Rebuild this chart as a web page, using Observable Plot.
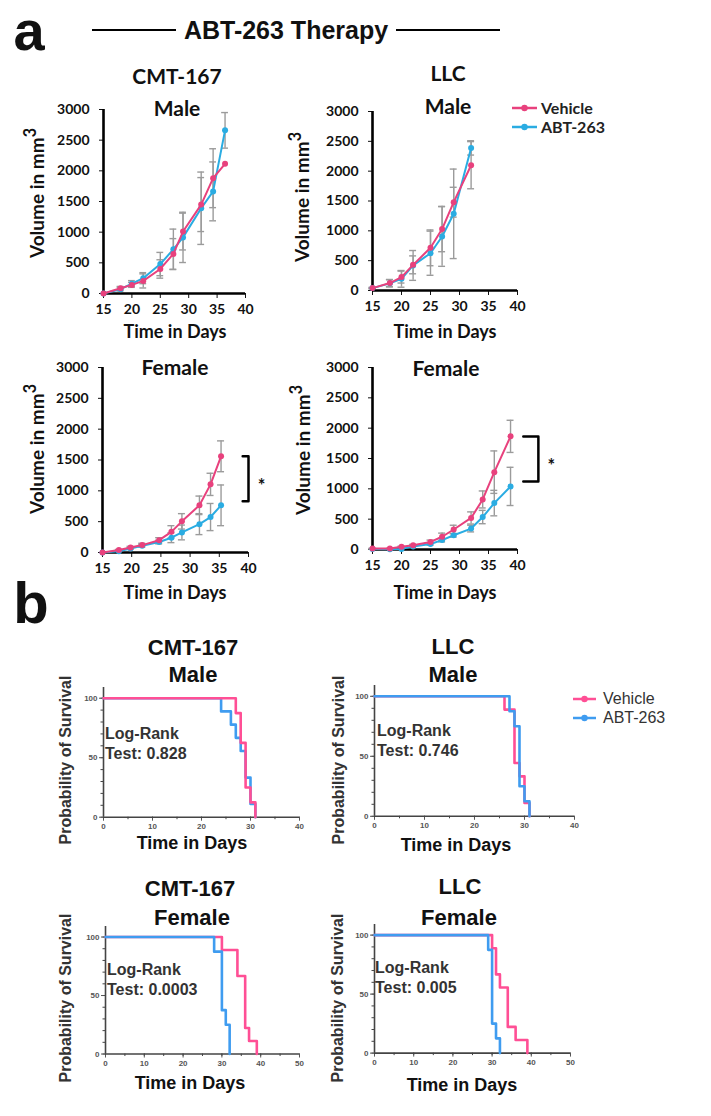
<!DOCTYPE html>
<html><head><meta charset="utf-8">
<script src="https://cdn.jsdelivr.net/npm/d3@7"></script>
<script src="https://cdn.jsdelivr.net/npm/@observablehq/plot@0.6"></script>
<style>
body{margin:0;background:#fff;}
#fig{position:relative;width:711px;height:1116px;overflow:hidden;background:#fff;}
.t{position:absolute;white-space:nowrap;color:#111;line-height:1;}
</style></head><body><div id="fig"></div>
<script>
// ---------------- DATA ----------------
const seriesNames = ["Vehicle", "ABT-263"];
const growthColors = ["#e8417d", "#2aace2"];
const survivalColors = ["#ff4f95", "#3f9cf0"];

const growthDayTicks = [15, 20, 25, 30, 35, 40];
const growthVolumeTicks = [0, 500, 1000, 1500, 2000, 2500, 3000];

// a: CMT-167 Male
const cmtMaleDays = [15, 18, 20, 22, 25, 27.3, 29, 32.2, 34.3, 36.4];
const cmtMaleVehicle = [0, 85, 140, 205, 400, 645, 1010, 1450, 1880, 2115];
const cmtMaleVehicleErr = [0, 30, 40, 115, 150, 250, 300, 440, 480, 0];
const cmtMaleAbt = [0, 70, 160, 250, 480, 720, 915, 1390, 1665, 2660];
const cmtMaleAbtErr = [0, 30, 50, 90, 190, 330, 410, 590, 480, 290];

// a: LLC Male
const llcMaleDays = [15, 18, 20, 22, 25, 27, 29, 32];
const llcMaleVehicle = [40, 125, 225, 430, 715, 1030, 1480, 2100];
const llcMaleVehicleErr = [10, 60, 100, 150, 300, 380, 250, 395];
const llcMaleAbt = [40, 120, 195, 420, 625, 905, 1285, 2390];
const llcMaleAbtErr = [10, 60, 140, 250, 370, 500, 750, 120];

// a: CMT-167 Female
const cmtFemaleDays = [15, 17.8, 19.8, 21.8, 24.7, 26.8, 28.6, 31.6, 33.5, 35.3];
const cmtFemaleVehicle = [0, 40, 80, 120, 200, 335, 505, 765, 1105, 1560];
const cmtFemaleVehicleErr = [0, 10, 20, 30, 40, 100, 125, 150, 180, 250];
const cmtFemaleAbt = [0, 20, 65, 110, 170, 240, 325, 460, 575, 765];
const cmtFemaleAbtErr = [0, 10, 15, 20, 30, 80, 120, 170, 220, 330];
const cmtFemaleBracket = [{arm: 39, bar: 40, top: 1560, bottom: 830}];

// a: LLC Female
const llcFemaleDays = [15, 18, 20, 22, 25, 27, 29, 32, 34, 36, 38.8];
const llcFemaleVehicle = [15, 15, 45, 70, 125, 210, 330, 520, 825, 1275, 1865];
const llcFemaleVehicleErr = [5, 5, 10, 15, 30, 60, 70, 100, 140, 350, 265];
const llcFemaleAbt = [10, 5, 10, 50, 90, 155, 235, 345, 535, 765, 1040];
const llcFemaleAbtErr = [5, 5, 5, 10, 20, 30, 30, 55, 110, 210, 315];
const llcFemaleBracket = [{arm: 41, bar: 43.6, top: 1862, bottom: 1120}];

// b: survival (time in days, probability of survival %)
const survTop = 109;
const cmtMaleSurvVehicleT = [0, 27, 28, 29, 30, 31];
const cmtMaleSurvVehicleS = [100, 87.5, 62.5, 25, 12.5, 0];
const cmtMaleSurvAbtT = [0, 24, 26, 27, 28, 29, 30, 31];
const cmtMaleSurvAbtS = [100, 88.9, 77.8, 66.7, 55.6, 33.3, 11.1, 0];

const llcMaleSurvVehicleT = [0, 26, 28, 29, 30, 31];
const llcMaleSurvVehicleS = [100, 88.9, 44.4, 33.3, 11.1, 0];
const llcMaleSurvAbtT = [0, 27, 28, 29, 30, 31];
const llcMaleSurvAbtS = [100, 87.5, 75, 25, 12.5, 0];

const cmtFemaleSurvVehicleT = [0, 30, 34, 36, 37, 39];
const cmtFemaleSurvVehicleS = [100, 88.9, 66.7, 22.2, 11.1, 0];
const cmtFemaleSurvAbtT = [0, 28, 30, 31, 32];
const cmtFemaleSurvAbtS = [100, 87.5, 37.5, 25, 0];

const llcFemaleSurvVehicleT = [0, 30, 31, 32, 34, 36, 39];
const llcFemaleSurvVehicleS = [100, 88.9, 66.7, 55.6, 22.2, 11.1, 0];
const llcFemaleSurvAbtT = [0, 29, 30, 31, 32];
const llcFemaleSurvAbtS = [100, 87.5, 25, 12.5, 0];

// ---------------- HELPERS ----------------
const FA = "Lato, 'Liberation Sans', sans-serif";
const FB = "'Liberation Sans', Arial, sans-serif";
const fig = document.getElementById("fig");

function growthRows(days, veh, vehErr, abt, abtErr) {
  const rows = [];
  days.forEach((d, i) => rows.push({day: d, value: veh[i], err: vehErr[i], series: "Vehicle"}));
  days.forEach((d, i) => rows.push({day: d, value: abt[i], err: abtErr[i], series: "ABT-263"}));
  return rows;
}
function survRows(t, s, series) {
  return t.map((d, i) => ({t: d, s: s[i], series}));
}

function growthPlot(box, rows, bracket) {
  const {x15, x40, y3000, y0} = box;
  const ml = 64, mt = 12, mr = 60, mb = 34;
  const capHalf = 0.6;
  const errRows = rows.filter(d => d.err > 0);
  const veh = rows.filter(d => d.series === "Vehicle");
  const abt = rows.filter(d => d.series === "ABT-263");
  const marks = [
    Plot.axisY({ticks: growthVolumeTicks, tickSize: 4, tickPadding: 10, fontSize: 14, fontWeight: "bold", tickFormat: d => String(d), label: null, color: "#111"}),
    Plot.axisX({ticks: growthDayTicks, tickSize: 5, tickPadding: 6, fontSize: 14, fontWeight: "bold", label: null, color: "#111"}),
    Plot.ruleX(errRows, {x: "day", y1: d => d.value - d.err, y2: d => d.value + d.err, stroke: "#9b9b9b", strokeWidth: 1.4}),
    Plot.ruleY(errRows, {y: d => d.value + d.err, x1: d => d.day - capHalf, x2: d => d.day + capHalf, stroke: "#9b9b9b", strokeWidth: 1.4}),
    Plot.ruleY(errRows, {y: d => d.value - d.err, x1: d => d.day - capHalf, x2: d => d.day + capHalf, stroke: "#9b9b9b", strokeWidth: 1.4}),
    Plot.ruleX([15], {y1: 0, y2: 3000, stroke: "#000", strokeWidth: 2.6}),
    Plot.ruleY([0], {x1: 15, x2: 40, stroke: "#000", strokeWidth: 2.6}),
    Plot.line(abt, {x: "day", y: "value", stroke: "series", strokeWidth: 2}),
    Plot.dot(abt, {x: "day", y: "value", fill: "series", r: 3}),
    Plot.line(veh, {x: "day", y: "value", stroke: "series", strokeWidth: 2}),
    Plot.dot(veh, {x: "day", y: "value", fill: "series", r: 3})
  ];
  if (bracket) {
    const pts = bracket.flatMap(b => [{x: b.arm, y: b.top}, {x: b.bar, y: b.top}, {x: b.bar, y: b.bottom}, {x: b.arm, y: b.bottom}]);
    marks.push(Plot.line(pts, {x: "x", y: "y", stroke: "#000", strokeWidth: 2.5}));
    marks.push(Plot.text(bracket, {x: "bar", y: d => (d.top + d.bottom) / 2, text: () => "*", dx: 13, dy: 7, fontSize: 18, fontWeight: "bold", fill: "#111"}));
  }
  const svg = Plot.plot({
    width: x40 - x15 + ml + mr, height: y0 - y3000 + mt + mb,
    marginLeft: ml, marginTop: mt, marginRight: mr, marginBottom: mb,
    x: {domain: [15, 40]}, y: {domain: [0, 3000]},
    color: {domain: seriesNames, range: growthColors},
    style: {position: "absolute", left: (x15 - ml) + "px", top: (y3000 - mt) + "px", background: "transparent", overflow: "visible", fontFamily: FA, fontWeight: "bold", maxWidth: "none"},
    marks
  });
  fig.appendChild(svg);
}

function survivalPlot(box, xmax, layers) {
  const {x0, x1, y0, y100} = box;
  const k = (y0 - y100) / 100;
  const yTop = y0 - survTop * k;
  const ml = 32, mt = 6, mr = 14, mb = 24;
  const marks = [
    Plot.axisY({ticks: d3.range(0, 101, 10), tickSize: 2.5, tickFormat: () => "", label: null, color: "#444"}),
    Plot.axisY({ticks: [0, 50, 100], tickSize: 4, tickPadding: 2, fontSize: 8, fontWeight: "bold", label: null, color: "#555"}),
    Plot.axisX({ticks: d3.range(0, xmax + 1, 5), tickSize: 2.5, tickFormat: () => "", label: null, color: "#444"}),
    Plot.axisX({ticks: d3.range(0, xmax + 1, 10), tickSize: 4, tickPadding: 2, fontSize: 8, fontWeight: "bold", label: null, color: "#555"}),
    Plot.ruleX([0], {y1: 0, y2: survTop, stroke: "#444", strokeWidth: 1.6}),
    Plot.ruleY([0], {x1: 0, x2: xmax, stroke: "#444", strokeWidth: 1.6})
  ];
  layers.forEach(rows => marks.push(Plot.line(rows, {x: "t", y: "s", stroke: "series", curve: "step-after", strokeWidth: 2.6})));
  const svg = Plot.plot({
    width: x1 - x0 + ml + mr, height: y0 - yTop + mt + mb,
    marginLeft: ml, marginTop: mt, marginRight: mr, marginBottom: mb,
    x: {domain: [0, xmax]}, y: {domain: [0, survTop]},
    color: {domain: seriesNames, range: survivalColors},
    style: {position: "absolute", left: (x0 - ml) + "px", top: (yTop - mt) + "px", background: "transparent", overflow: "visible", fontFamily: FB, fontWeight: "bold", maxWidth: "none"},
    marks
  });
  fig.appendChild(svg);
}

function label(html, x, y, o = {}) {
  const el = document.createElement("div");
  el.className = "t";
  el.innerHTML = html;
  el.style.left = x + "px";
  el.style.top = y + "px";
  el.style.fontFamily = o.family || FA;
  el.style.fontWeight = o.weight || "bold";
  el.style.fontSize = (o.size || 16) + "px";
  el.style.lineHeight = o.lh || "1";
  if (o.color) el.style.color = o.color;
  let tr = o.align === "left" ? "translate(0,-50%)" : "translate(-50%,-50%)";
  if (o.rotate) tr += " rotate(-90deg)";
  el.style.transform = tr;
  fig.appendChild(el);
}
function hline(x1, x2, y, w) {
  const el = document.createElement("div");
  el.style.cssText = `position:absolute;left:${x1}px;top:${y - w / 2}px;width:${x2 - x1}px;height:${w}px;background:#000;`;
  fig.appendChild(el);
}
function legendEntry(x, y, color, text, o) {
  const el = document.createElement("div");
  el.className = "t";
  el.style.left = x + "px"; el.style.top = y + "px";
  el.style.transform = "translate(0,-50%)";
  el.style.display = "flex"; el.style.alignItems = "center";
  el.innerHTML = `<svg width="${o.w}" height="10" style="margin-right:${o.gap}px"><line x1="0" x2="${o.w}" y1="5" y2="5" stroke="${color}" stroke-width="2.5"/><circle cx="${o.w / 2}" cy="5" r="3.2" fill="${color}"/></svg><span style="font-family:${o.family};font-weight:${o.weight};font-size:${o.size}px;color:${o.color}">${text}</span>`;
  fig.appendChild(el);
}

// ---------------- PANEL a ----------------
growthPlot({x15: 103, x40: 245, y3000: 109, y0: 293},
  growthRows(cmtMaleDays, cmtMaleVehicle, cmtMaleVehicleErr, cmtMaleAbt, cmtMaleAbtErr));
growthPlot({x15: 372, x40: 517, y3000: 111, y0: 290},
  growthRows(llcMaleDays, llcMaleVehicle, llcMaleVehicleErr, llcMaleAbt, llcMaleAbtErr));
growthPlot({x15: 102, x40: 248, y3000: 367, y0: 552},
  growthRows(cmtFemaleDays, cmtFemaleVehicle, cmtFemaleVehicleErr, cmtFemaleAbt, cmtFemaleAbtErr), cmtFemaleBracket);
growthPlot({x15: 372, x40: 517, y3000: 367, y0: 549},
  growthRows(llcFemaleDays, llcFemaleVehicle, llcFemaleVehicleErr, llcFemaleAbt, llcFemaleAbtErr), llcFemaleBracket);

label("a", 29, 31, {size: 56, family: FB, lh: "0.8"});
label("ABT-263 Therapy", 286, 30, {size: 25, family: FB});
hline(92, 176, 30, 2);
hline(396, 500, 30, 2);

label("CMT-167", 177, 75, {size: 21});
label("Male", 177, 107, {size: 21});
label("LLC", 448, 72, {size: 21});
label("Male", 448, 105, {size: 21});
label("Female", 175, 366, {size: 21});
label("Female", 446, 367, {size: 21});

const vol = 'Volume in mm<span style="font-size:0.85em;position:relative;top:-0.5em">3</span>';
label(vol, 37, 193, {size: 19, rotate: true});
label(vol, 302, 197, {size: 19, rotate: true});
label(vol, 37, 449, {size: 19, rotate: true});
label(vol, 303, 450, {size: 19, rotate: true});

label("Time in Days", 175, 331, {size: 18});
label("Time in Days", 445, 331, {size: 18});
label("Time in Days", 175, 592, {size: 18});
label("Time in Days", 445, 592, {size: 18});

legendEntry(512, 108, growthColors[0], seriesNames[0], {w: 25, gap: 4, family: FA, weight: "bold", size: 16, color: "#222"});
legendEntry(512, 127, growthColors[1], seriesNames[1], {w: 25, gap: 4, family: FA, weight: "bold", size: 16, color: "#222"});

// ---------------- PANEL b ----------------
survivalPlot({x0: 103, x1: 299, y0: 817, y100: 698}, 40, [
  survRows(cmtMaleSurvAbtT, cmtMaleSurvAbtS, "ABT-263"),
  survRows(cmtMaleSurvVehicleT, cmtMaleSurvVehicleS, "Vehicle")]);
survivalPlot({x0: 374, x1: 574, y0: 816, y100: 696}, 40, [
  survRows(llcMaleSurvVehicleT, llcMaleSurvVehicleS, "Vehicle"),
  survRows(llcMaleSurvAbtT, llcMaleSurvAbtS, "ABT-263")]);
survivalPlot({x0: 105, x1: 299, y0: 1054, y100: 937}, 50, [
  survRows(cmtFemaleSurvVehicleT, cmtFemaleSurvVehicleS, "Vehicle"),
  survRows(cmtFemaleSurvAbtT, cmtFemaleSurvAbtS, "ABT-263")]);
survivalPlot({x0: 374, x1: 570, y0: 1053, y100: 935}, 50, [
  survRows(llcFemaleSurvVehicleT, llcFemaleSurvVehicleS, "Vehicle"),
  survRows(llcFemaleSurvAbtT, llcFemaleSurvAbtS, "ABT-263")]);

label("b", 31, 603, {size: 58, family: FB});

label("CMT-167", 193, 648, {size: 22, family: FB});
label("Male", 193, 675, {size: 22, family: FB});
label("LLC", 453, 647, {size: 22, family: FB});
label("Male", 453, 675, {size: 22, family: FB});
label("CMT-167", 190, 889, {size: 22, family: FB});
label("Female", 192, 918, {size: 22, family: FB});
label("LLC", 460, 887, {size: 22, family: FB});
label("Female", 459, 918, {size: 22, family: FB});

const lr = [[105, 734, "0.828"], [377, 731, "0.746"], [107, 970, "0.0003"], [375, 968, "0.005"]];
lr.forEach(([x, y, p]) => {
  label("Log-Rank", x, y, {size: 16, family: FB, align: "left", color: "#333"});
  label("Test: " + p, x, y + 20, {size: 16, family: FB, align: "left", color: "#333"});
});

label("Probability of Survival", 66, 760, {size: 16, family: FB, rotate: true, color: "#333"});
label("Probability of Survival", 339, 760, {size: 16, family: FB, rotate: true, color: "#333"});
label("Probability of Survival", 66, 998, {size: 16, family: FB, rotate: true, color: "#333"});
label("Probability of Survival", 338, 998, {size: 16, family: FB, rotate: true, color: "#333"});

label("Time in Days", 192, 843, {size: 18, family: FB});
label("Time in Days", 456, 845, {size: 18, family: FB});
label("Time in Days", 190, 1083, {size: 18, family: FB});
label("Time in Days", 462, 1085, {size: 18, family: FB});

legendEntry(573, 699, survivalColors[0], seriesNames[0], {w: 23, gap: 7, family: FB, weight: "normal", size: 16, color: "#333"});
legendEntry(573, 718, survivalColors[1], seriesNames[1], {w: 23, gap: 7, family: FB, weight: "normal", size: 16, color: "#333"});
</script>
</body></html>
